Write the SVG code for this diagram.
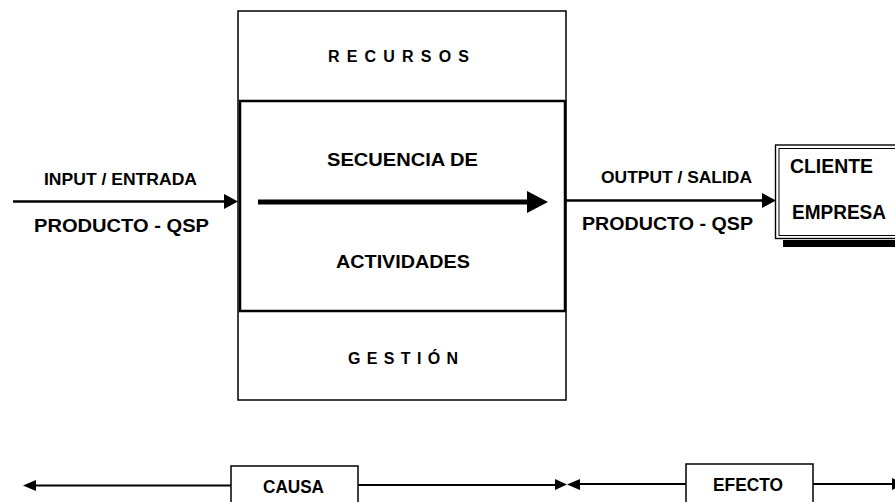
<svg xmlns="http://www.w3.org/2000/svg" width="895" height="502" viewBox="0 0 895 502">
<style>
text{font-family:"Liberation Sans",Arial,Helvetica,sans-serif;font-weight:bold;fill:#000}
.box{fill:#fff;stroke:#000}
.ln{stroke:#000;fill:none}
</style>
<rect width="895" height="502" fill="#fff"/>
<g id="column">
<rect class="box" x="238" y="11" width="328" height="389" stroke-width="1.5"/>
</g>
<g id="recursos">
<text x="328" y="62" font-size="16" textLength="141">RECURSOS</text>
</g>
<g id="gestion">
<text x="348" y="364" font-size="16" textLength="110">GESTIÓN</text>
</g>
<g id="secuencia">
<rect class="box" x="240" y="101" width="325" height="210" stroke-width="2.5"/>
<text x="327" y="166" font-size="19" textLength="151" lengthAdjust="spacingAndGlyphs">SECUENCIA DE</text>
<text x="336" y="268" font-size="19" textLength="134" lengthAdjust="spacingAndGlyphs">ACTIVIDADES</text>
</g>
<g id="cliente">
<rect x="783" y="240" width="120" height="7" fill="#000"/>
<rect class="box" x="775.5" y="145" width="130" height="93.5" stroke-width="1.4"/>
<rect class="ln" x="779" y="148.5" width="130" height="87" stroke-width="1"/>
<text x="790" y="173" font-size="20" textLength="83" lengthAdjust="spacingAndGlyphs">CLIENTE</text>
<text x="792" y="219" font-size="20" textLength="94" lengthAdjust="spacingAndGlyphs">EMPRESA</text>
</g>
<g id="causa">
<rect class="box" x="231" y="466" width="127" height="50" stroke-width="1.5"/>
<text x="263" y="493" font-size="18" textLength="61" lengthAdjust="spacingAndGlyphs">CAUSA</text>
</g>
<g id="efecto">
<rect class="box" x="686" y="464" width="127" height="50" stroke-width="1.5"/>
<text x="713" y="491" font-size="18" textLength="70" lengthAdjust="spacingAndGlyphs">EFECTO</text>
</g>
<g id="connectors">
<line class="ln" x1="13" y1="201.5" x2="226" y2="201.5" stroke-width="2.7"/>
<polygon points="224,194 238,201.5 224,209"/>
<line class="ln" x1="258" y1="202" x2="530" y2="202" stroke-width="5"/>
<polygon points="527,191 548,202 527,213"/>
<line class="ln" x1="566" y1="200.5" x2="764" y2="200.5" stroke-width="2.7"/>
<polygon points="762,193 776,200.5 762,208"/>
<line class="ln" x1="33" y1="485.5" x2="231" y2="485.5" stroke-width="2"/>
<polygon points="23,485.5 36,480 36,491"/>
<line class="ln" x1="358" y1="485" x2="557" y2="485" stroke-width="2"/>
<polygon points="555,479 567,484.5 555,490"/>
<polygon points="580,479 567,484.5 580,490"/>
<line class="ln" x1="578" y1="484" x2="686" y2="484" stroke-width="2"/>
<line class="ln" x1="813" y1="484" x2="894" y2="484" stroke-width="2"/>
<polygon points="892,478 904,484 892,490"/>
</g>
<text x="44" y="185" font-size="16.5" textLength="153" lengthAdjust="spacingAndGlyphs">INPUT / ENTRADA</text>
<text x="34" y="232" font-size="18.5" textLength="175" lengthAdjust="spacingAndGlyphs">PRODUCTO - QSP</text>
<text x="601" y="183" font-size="16.5" textLength="151" lengthAdjust="spacingAndGlyphs">OUTPUT / SALIDA</text>
<text x="582" y="230" font-size="18.5" textLength="171" lengthAdjust="spacingAndGlyphs">PRODUCTO - QSP</text>
</svg>
